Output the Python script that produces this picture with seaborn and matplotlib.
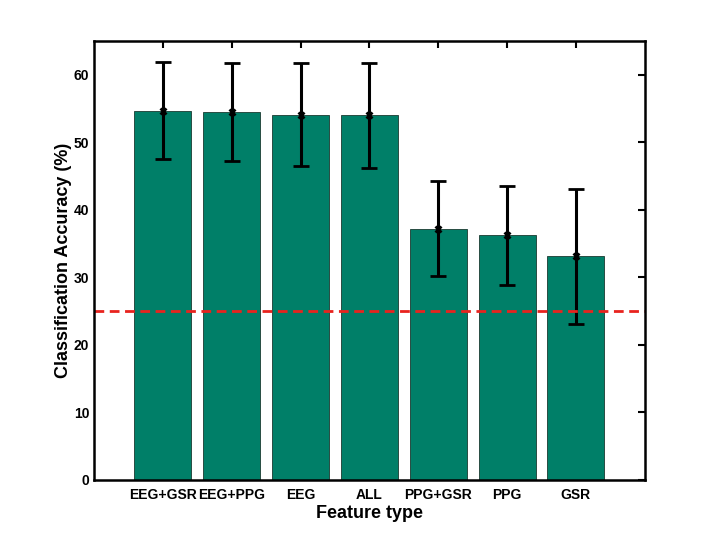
import matplotlib
matplotlib.use("Agg")
import matplotlib.pyplot as plt
import seaborn as sns
import numpy as np

categories = ["EEG+GSR", "EEG+PPG", "EEG", "ALL", "PPG+GSR", "PPG", "GSR"]
accuracy = [54.7, 54.5, 54.1, 54.0, 37.2, 36.2, 33.1]
std_err = [7.2, 7.2, 7.6, 7.8, 7.0, 7.3, 10.0]
chance_level = 25
y_ticks = [0, 10, 20, 30, 40, 50, 60]

sns.set_style("white")
plt.rcParams['font.family'] = ['Liberation Sans', 'DejaVu Sans']
plt.rcParams['font.weight'] = 'bold'
for k in ['text.color', 'axes.labelcolor', 'xtick.color', 'ytick.color']:
    plt.rcParams[k] = 'black'

fig = plt.figure(figsize=(7.18, 5.39), dpi=100)
ax = fig.add_axes([0.131, 0.1095, 0.767, 0.8145])

sns.barplot(x=categories, y=accuracy, color="#007F68", saturation=1, width=0.83,
            edgecolor="#1a3a30", linewidth=0.6, ax=ax)
xs = np.arange(len(categories))
ax.errorbar(xs, accuracy, yerr=std_err, fmt='x', color='black', ecolor='black',
            elinewidth=2.2, capsize=6, capthick=2.2, markersize=5, markeredgewidth=2)
ax.axhline(chance_level, color='#e8231e', linestyle=(0, (3.5, 2)), linewidth=2)

ax.set_xlim(-1, 7)
ax.set_ylim(0, 65)
ax.set_yticks(y_ticks)
ax.set_yticklabels([str(t) for t in y_ticks], fontsize=10, fontweight='bold')
ax.set_xticks(xs)
ax.set_xticklabels(categories, fontsize=10, fontweight='bold')
ax.tick_params(axis='both', direction='in', length=5, width=1.5, top=True, right=True,
               color='black', labelcolor='black')
ax.tick_params(axis='x', length=5, pad=6)
ax.set_xlabel("Feature type", fontsize=13, fontweight='bold', labelpad=2)
ax.set_ylabel("Classification Accuracy (%)", fontsize=13, fontweight='bold', labelpad=1)
for s in ax.spines.values():
    s.set_visible(True)
    s.set_linewidth(1.8)
    s.set_color('black')

fig.savefig("out.png", dpi=100)
